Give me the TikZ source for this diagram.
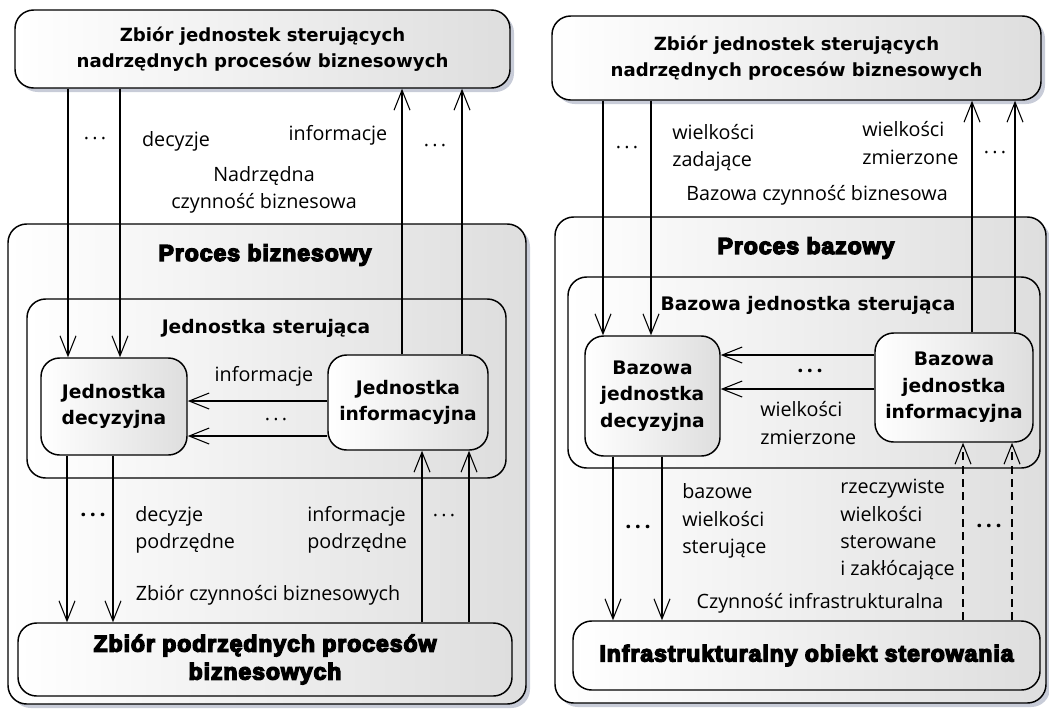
\documentclass[tikz,border=0pt]{standalone}
\usepackage{fontspec}
\setmainfont{Open Sans}
\newfontfamily\boxfont{DejaVu Sans}
\newfontfamily\heavyfont{Liberation Sans}[UprightFont={* Bold},UprightFeatures={FakeBold=6},LetterSpace=4]
\usetikzlibrary{arrows.meta,shadows}
\definecolor{shadowgrey}{RGB}{200,204,216}
\definecolor{boxgrey}{RGB}{222,222,222}
\tikzset {>={Straight Barb[length=15pt,width=12pt]}}
\tikzset{
  wh/.style 2 args={minimum width=#1*0.75pt,minimum height=#2*0.75pt},
  box/.style={draw,line width=1.1pt,rounded corners=14pt,left color=white,right color=boxgrey,
    inner sep=0pt,align=center,font=\boxfont\bfseries\fontsize{14}{20}\selectfont},
  shbox/.style={box,drop shadow={shadow xshift=3pt,shadow yshift=-3pt,fill=shadowgrey,opacity=1}},
  topbox/.style={shbox,font=\boxfont\bfseries\fontsize{13.6}{19.5}\selectfont},
  heavy/.style={font=\heavyfont\fontsize{17.3}{21}\selectfont},
  title/.style={inner sep=0pt,font=\boxfont\bfseries\fontsize{14}{20}\selectfont},
  lbl/.style={inner sep=0pt,align=left,font=\fontsize{14.8}{20.5}\selectfont},
  dots/.style={inner sep=0pt,font=\fontsize{14.8}{20}\selectfont},
  bdots/.style={inner sep=0pt,font=\bfseries\fontsize{16}{20}\selectfont},
  flow/.style={->,line width=0.8pt},
  dflow/.style={flow,dash pattern=on 6pt off 4pt}
}

\begin{document}
\begin{tikzpicture}[x=0.75pt,y=-0.75pt]
\useasboundingbox (0,0) rectangle (1049,708);

% left panel
\node[shbox,wh={518}{480}] (procL) at (267,464) {};
\node[box,wh={479}{179}] (ctrlL) at (266.5,388.5) {};
\node[box,wh={146}{97}] (decL) at (114,406.5) {Jednostka\\decyzyjna};
\node[box,wh={160}{95}] (infL) at (408,402.5) {Jednostka\\informacyjna};
\node[topbox,wh={495}{78}] (topL) at (262.5,49) {Zbiór jednostek sterujących\\nadrzędnych procesów biznesowych};
\node[box,heavy,wh={494}{73}] (botL) at (265,659.5) {Zbiór podrzędnych procesów\\biznesowych};

\coordinate (la) at (68,0);
\coordinate (lb) at (120,0);
\coordinate (lc) at (402,0);
\coordinate (ld) at (462,0);
\coordinate (le) at (67,0);
\coordinate (lf) at (113,0);
\coordinate (lg) at (422,0);
\coordinate (lh) at (469,0);
\coordinate (lh1) at (0,401);
\coordinate (lh2) at (0,436);

\draw[flow] (topL.south -| la) -- (decL.north -| la);
\draw[flow] (topL.south -| lb) -- (decL.north -| lb);
\draw[flow] (infL.north -| lc) -- (topL.south -| lc);
\draw[flow] (infL.north -| ld) -- (topL.south -| ld);
\draw[flow] (infL.west |- lh1) -- (decL.east |- lh1);
\draw[flow] (infL.west |- lh2) -- (decL.east |- lh2);
\draw[flow] (decL.south -| le) -- (botL.north -| le);
\draw[flow] (decL.south -| lf) -- (botL.north -| lf);
\draw[flow] (botL.north -| lg) -- (infL.south -| lg);
\draw[flow] (botL.north -| lh) -- (infL.south -| lh);

\node[dots] (ldots1) at (95,141) {·\,·\,·};
\node[lbl] (ldec) at (176,141) {decyzje};
\node[lbl] (linf) at (338,135) {informacje};
\node[dots] (ldots2) at (435,148) {·\,·\,·};
\node[lbl,align=center] (lact) at (264,190) {Nadrzędna\\czynność biznesowa};
\node[heavy] (lproc) at (265,255) {Proces biznesowy};
\node[title] (lctrl) at (266,328) {Jednostka sterująca};
\node[lbl] (linf2) at (264,376) {informacje};
\node[dots] (ldots3) at (276,422) {·\,·\,·};
\node[bdots] (ldots4) at (93,518) {·\,·\,·};
\node[lbl,anchor=west] (ldecp) at (135,530) {decyzje\\podrzędne};
\node[lbl,anchor=west] (linfp) at (307,530) {informacje\\podrzędne};
\node[dots] (ldots5) at (444,518) {·\,·\,·};
\node[lbl] (lset) at (268,595) {Zbiór czynności biznesowych};

% right panel
\node[shbox,wh={491}{486}] (procR) at (800.5,460) {};
\node[box,wh={472}{191}] (ctrlR) at (804,372.5) {};
\node[box,wh={135}{120}] (decR) at (652.5,396) {Bazowa\\jednostka\\decyzyjna};
\node[box,wh={158}{109}] (infR) at (954,387.5) {Bazowa\\jednostka\\informacyjna};
\node[topbox,wh={489}{84}] (topR) at (796.5,58) {Zbiór jednostek sterujących\\nadrzędnych procesów biznesowych};
\node[box,heavy,wh={467}{69}] (botR) at (806.5,655.5) {Infrastrukturalny obiekt sterowania};

\coordinate (ra) at (603,0);
\coordinate (rb) at (651,0);
\coordinate (rc) at (972,0);
\coordinate (rd) at (1015,0);
\coordinate (re) at (613,0);
\coordinate (rf) at (662,0);
\coordinate (rg) at (963,0);
\coordinate (rh) at (1012,0);
\coordinate (rh1) at (0,355);
\coordinate (rh2) at (0,389);

\draw[flow] (topR.south -| ra) -- (decR.north -| ra);
\draw[flow] (topR.south -| rb) -- (decR.north -| rb);
\draw[flow] (infR.north -| rc) -- (topR.south -| rc);
\draw[flow] (infR.north -| rd) -- (topR.south -| rd);
\draw[flow] (infR.west |- rh1) -- (decR.east |- rh1);
\draw[flow] (infR.west |- rh2) -- (decR.east |- rh2);
\draw[flow] (decR.south -| re) -- (botR.north -| re);
\draw[flow] (decR.south -| rf) -- (botR.north -| rf);
\draw[dflow] (botR.north -| rg) -- (infR.south -| rg);
\draw[dflow] (botR.north -| rh) -- (infR.south -| rh);

\node[dots] (rdots1) at (627,150) {·\,·\,·};
\node[lbl,anchor=west] (rset) at (672,148) {wielkości\\zadające};
\node[lbl,anchor=west] (rmeas) at (862,143) {wielkości\\zmierzone};
\node[dots] (rdots2) at (995,155) {·\,·\,·};
\node[lbl] (ract) at (817,195) {Bazowa czynność biznesowa};
\node[heavy] (rproc) at (806,248) {Proces bazowy};
\node[title] (rctrl) at (808,305) {Bazowa jednostka sterująca};
\node[bdots] (rdots3) at (810,374) {·\,·\,·};
\node[lbl,anchor=west] (rmeas2) at (760,423) {wielkości\\zmierzone};
\node[bdots] (rdots4) at (638,530) {·\,·\,·};
\node[lbl,anchor=west] (rbase) at (682,521) {bazowe\\wielkości\\sterujące};
\node[lbl,anchor=west] (rreal) at (840,530) {rzeczywiste\\wielkości\\sterowane\\i zakłócające};
\node[bdots] (rdots5) at (989,529) {·\,·\,·};
\node[lbl] (rinfra) at (820,603) {Czynność infrastrukturalna};
\end{tikzpicture}
\end{document}
